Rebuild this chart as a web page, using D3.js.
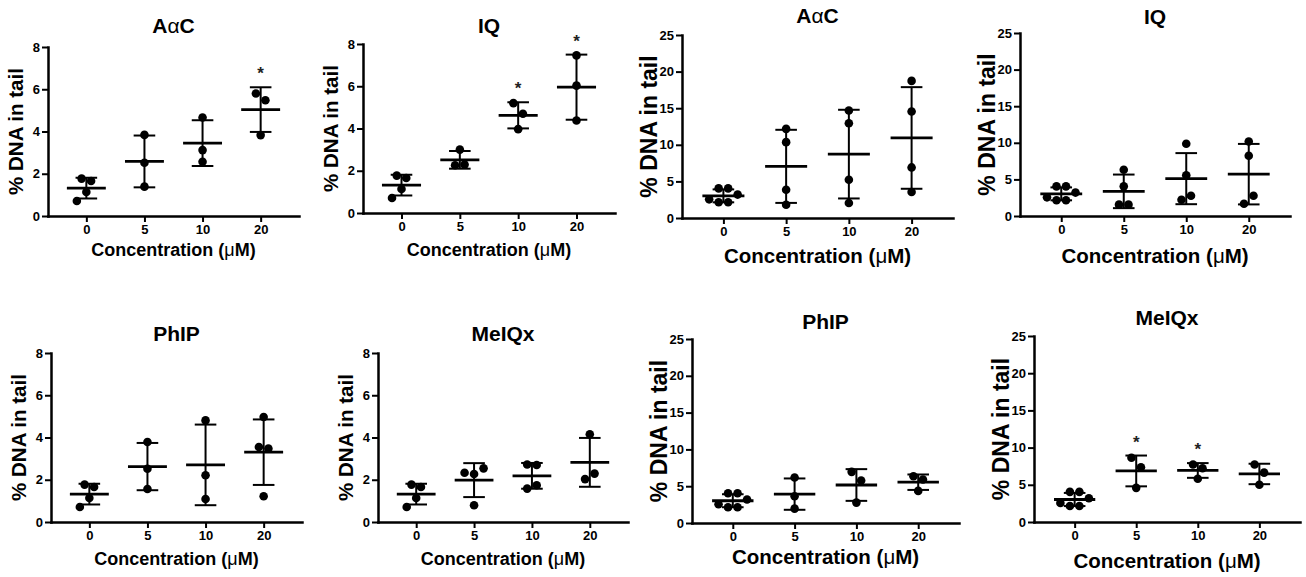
<!DOCTYPE html>
<html>
<head>
<meta charset="utf-8">
<script src="https://cdn.jsdelivr.net/npm/d3@7"></script>
<style>
  html, body { margin: 0; padding: 0; background: #fff; }
  svg { display: block; }
  text { font-family: "Liberation Sans", Arial, Helvetica, sans-serif; }
</style>
</head>
<body>
<svg id="chart" width="1306" height="577"></svg>
<script>
// Comet assay: % DNA in tail per concentration (µM), individual replicates.
const concentrations = ["0", "5", "10", "20"];
const ticksLow = [0, 2, 4, 6, 8];
const ticksHigh = [0, 5, 10, 15, 20, 25];

// vehicle controls shared by the panels on the same scale
const controlLow = [1.77, 1.66, 0.71, 1.14];
const controlHigh = [4.05, 4.05, 2.55, 3.2, 2.15, 2.15];

// 5, 10, 20 µM replicates
const aacLow = [[3.84, 2.52, 1.39], [4.66, 3.12, 2.57], [5.8, 5.48, 3.83]];
const iqLow = [[3.0, 2.26, 2.29], [5.2, 4.7, 3.97], [7.46, 6.03, 4.38]];
const phipLow = [[3.79, 2.52, 1.56], [4.81, 2.21, 1.09], [4.97, 3.55, 3.48, 1.22]];
const meiqxLow = [[2.33, 2.27, 2.54, 0.79], [2.72, 2.70, 1.58, 1.74], [4.15, 2.03, 2.29]];

const aacHigh = [[12.18, 10.36, 3.86, 1.82], [14.68, 12.95, 5.23, 2.05], [18.73, 14.55, 6.91, 3.55]];
const iqHigh = [[6.32, 4.05, 1.55, 1.55], [9.86, 5.55, 2.23, 2.77], [10.18, 8.23, 1.68, 2.77]];
const phipHigh = [[6.18, 3.64, 1.95], [6.95, 5.77, 2.77], [6.36, 5.91, 4.36]];
const meiqxHigh = [[8.64, 7.36, 4.59], [7.73, 7.23, 5.82], [7.73, 6.64, 5.0]];

// concentrations marked significant
const aacLowStars = ["20"];
const iqLowStars = ["10", "20"];
const noStars = [];
const meiqxHighStars = ["5", "10"];

const titles = { aac: "A\u03B1C", iq: "IQ", phip: "PhIP", meiqx: "MeIQx" };

const panels = [
  { title: titles.aac,   control: controlLow,  treated: aacLow,    stars: aacLowStars,    ticks: ticksLow,
    L: 48,   R: 299,  T: 47,  B: 216, titleY: 33,  xTitleY: 256, axisFont: 18, yTitleFont: 20.5 },
  { title: titles.iq,    control: controlLow,  treated: iqLow,     stars: iqLowStars,     ticks: ticksLow,
    L: 363,  R: 615,  T: 44,  B: 213, titleY: 33,  xTitleY: 256, axisFont: 18, yTitleFont: 20.5 },
  { title: titles.aac,   control: controlHigh, treated: aacHigh,   stars: noStars,        ticks: ticksHigh,
    L: 682,  R: 953,  T: 35,  B: 218, titleY: 23,  xTitleY: 263, axisFont: 20.5, yTitleFont: 23 },
  { title: titles.iq,    control: controlHigh, treated: iqHigh,    stars: noStars,        ticks: ticksHigh,
    L: 1020, R: 1290, T: 33,  B: 216, titleY: 24,  xTitleY: 263, axisFont: 20.5, yTitleFont: 23 },
  { title: titles.phip,  control: controlLow,  treated: phipLow,   stars: noStars,        ticks: ticksLow,
    L: 51,   R: 302,  T: 353, B: 522, titleY: 341, xTitleY: 565, axisFont: 18, yTitleFont: 20.5 },
  { title: titles.meiqx, control: controlLow,  treated: meiqxLow,  stars: noStars,        ticks: ticksLow,
    L: 378,  R: 628,  T: 353, B: 522, titleY: 341, xTitleY: 565, axisFont: 18, yTitleFont: 20.5 },
  { title: titles.phip,  control: controlHigh, treated: phipHigh,  stars: noStars,        ticks: ticksHigh,
    L: 692,  R: 959,  T: 339, B: 523, titleY: 329, xTitleY: 564, axisFont: 20.5, yTitleFont: 23 },
  { title: titles.meiqx, control: controlHigh, treated: meiqxHigh, stars: meiqxHighStars, ticks: ticksHigh,
    L: 1034, R: 1300, T: 336, B: 522, titleY: 325, xTitleY: 568, axisFont: 20.5, yTitleFont: 23 }
];

const INK = "#000";
const DOT_R = 4.3;
const STEP = 9.5;   // horizontal spacing of neighbouring dots
const RY = 11;      // vertical extent used for overlap tests

// Spread replicate dots sideways so close values do not overlap.
function spread(values, y) {
  const pts = values.map((v, i) => ({ v, i, py: y(v), dx: 0 }));
  const sorted = pts.slice().sort((a, b) => b.v - a.v || a.i - b.i);
  const rows = [];
  for (const p of sorted) {
    const r = rows[rows.length - 1];
    if (r && Math.abs(p.py - r[0].py) < 6) r.push(p); else rows.push([p]);
  }
  const placed = [];
  const hits = (p, dx, ignore) => placed.some(q => q !== ignore && q !== p &&
    ((dx - q.dx) / STEP) ** 2 + ((p.py - q.py) / RY) ** 2 < 0.999);
  let prevRow = null;
  for (const row of rows) {
    row.sort((a, b) => a.i - b.i);
    const n = row.length;
    if (n === 1) {
      const p = row[0];
      if (!hits(p, 0)) {
        p.dx = 0;
      } else {
        let done = false;
        if (prevRow && prevRow.length === 1 && prevRow[0].dx === 0) {
          const q = prevRow[0];
          const qdx = q.i < p.i ? -STEP / 2 : STEP / 2;
          const pdx = -qdx;
          q.dx = qdx;
          if (!hits(q, qdx, q) && !hits(p, pdx)) { p.dx = pdx; done = true; }
          else q.dx = 0;
        }
        if (!done) {
          for (let k = 1; k < 30; k++) {
            const off = (k % 2 ? -1 : 1) * Math.ceil(k / 2) * STEP / 2;
            if (!hits(p, off)) { p.dx = off; break; }
          }
        }
      }
    } else {
      for (let k = 0; k < 30; k++) {
        const offs = row.map((p, j) => {
          const c = j - (n - 1) / 2;
          return c * STEP + Math.sign(c) * k * STEP / 2;
        });
        if (row.every((p, j) => !hits(p, offs[j]))) {
          row.forEach((p, j) => { p.dx = offs[j]; });
          break;
        }
      }
    }
    placed.push(...row);
    prevRow = row;
  }
  return pts;
}

const svg = d3.select("#chart");

panels.forEach(cfg => {
  const g = svg.append("g");
  const groups = [cfg.control, ...cfg.treated];
  const yMax = cfg.ticks[cfg.ticks.length - 1];

  const x = d3.scalePoint().domain(concentrations).range([cfg.L, cfg.R]).padding(0.66);
  const y = d3.scaleLinear().domain([0, yMax]).range([cfg.B, cfg.T]);
  const step = x.step();

  // axes
  const yAxis = g.append("g")
    .attr("transform", `translate(${cfg.L},0)`)
    .call(d3.axisLeft(y).tickValues(cfg.ticks).tickSize(6).tickSizeOuter(0).tickPadding(2));
  const xAxis = g.append("g")
    .attr("transform", `translate(0,${cfg.B})`)
    .call(d3.axisBottom(x).tickSize(6).tickSizeOuter(0).tickPadding(3));

  [yAxis, xAxis].forEach(ax => {
    ax.select(".domain").attr("stroke", INK).attr("stroke-width", 2.5).attr("stroke-linecap", "square");
    ax.selectAll(".tick line").attr("stroke", INK).attr("stroke-width", 2);
    ax.selectAll(".tick text")
      .attr("fill", INK)
      .style("font-family", '"Liberation Sans", Arial, sans-serif')
      .style("font-size", "13px")
      .style("font-weight", "bold");
  });

  // groups: SD bars, mean line, replicate dots
  groups.forEach((vals, gi) => {
    const cat = concentrations[gi];
    const cx = x(cat);
    const m = d3.mean(vals);
    const sd = d3.deviation(vals);
    const lo = m - sd, hi = m + sd;
    const capHalf = 10.8;
    const meanHalf = 0.335 * step;

    g.append("line").attr("x1", cx).attr("x2", cx).attr("y1", y(hi)).attr("y2", y(lo))
      .attr("stroke", INK).attr("stroke-width", 2);
    [hi, lo].forEach(v => {
      g.append("line").attr("x1", cx - capHalf).attr("x2", cx + capHalf)
        .attr("y1", y(v)).attr("y2", y(v))
        .attr("stroke", INK).attr("stroke-width", 2);
    });
    g.append("line").attr("x1", cx - meanHalf).attr("x2", cx + meanHalf)
      .attr("y1", y(m)).attr("y2", y(m))
      .attr("stroke", INK).attr("stroke-width", 2.8);

    const pts = spread(vals, y);
    g.selectAll(null).data(pts).enter().append("circle")
      .attr("cx", d => cx + d.dx)
      .attr("cy", d => d.py)
      .attr("r", DOT_R)
      .attr("fill", INK);

    if (cfg.stars.includes(cat)) {
      const top = Math.max(hi, d3.max(vals));
      g.append("text")
        .attr("x", cx)
        .attr("y", y(top) - 8)
        .attr("text-anchor", "middle")
        .attr("fill", "#222")
        .style("font-size", "17px")
        .style("font-weight", "bold")
        .text("*");
    }
  });

  // panel title
  const title = g.append("text")
    .attr("x", (cfg.L + cfg.R) / 2)
    .attr("y", cfg.titleY)
    .attr("text-anchor", "middle")
    .attr("fill", INK)
    .style("font-size", "21px")
    .style("font-weight", "bold");
  const alpha = cfg.title.indexOf("\u03B1");
  if (alpha >= 0) {
    title.append("tspan").text(cfg.title.slice(0, alpha));
    title.append("tspan").style("font-weight", "normal").text("\u03B1");
    title.append("tspan").text(cfg.title.slice(alpha + 1));
  } else {
    title.text(cfg.title);
  }

  // x-axis title
  const xt = g.append("text")
    .attr("x", (cfg.L + cfg.R) / 2)
    .attr("y", cfg.xTitleY)
    .attr("text-anchor", "middle")
    .attr("fill", INK)
    .style("font-size", cfg.axisFont + "px")
    .style("font-weight", "bold");
  xt.append("tspan").text("Concentration (");
  xt.append("tspan").style("font-weight", "normal").text("\u03BC");
  xt.append("tspan").text("M)");

  // y-axis title
  g.append("text")
    .attr("transform", `translate(${cfg.L - 33},${(cfg.T + cfg.B) / 2}) rotate(-90)`)
    .attr("text-anchor", "middle")
    .attr("dominant-baseline", "central")
    .attr("fill", INK)
    .style("font-size", cfg.yTitleFont + "px")
    .style("font-weight", "bold")
    .text("% DNA in tail");
});
</script>
</body>
</html>
